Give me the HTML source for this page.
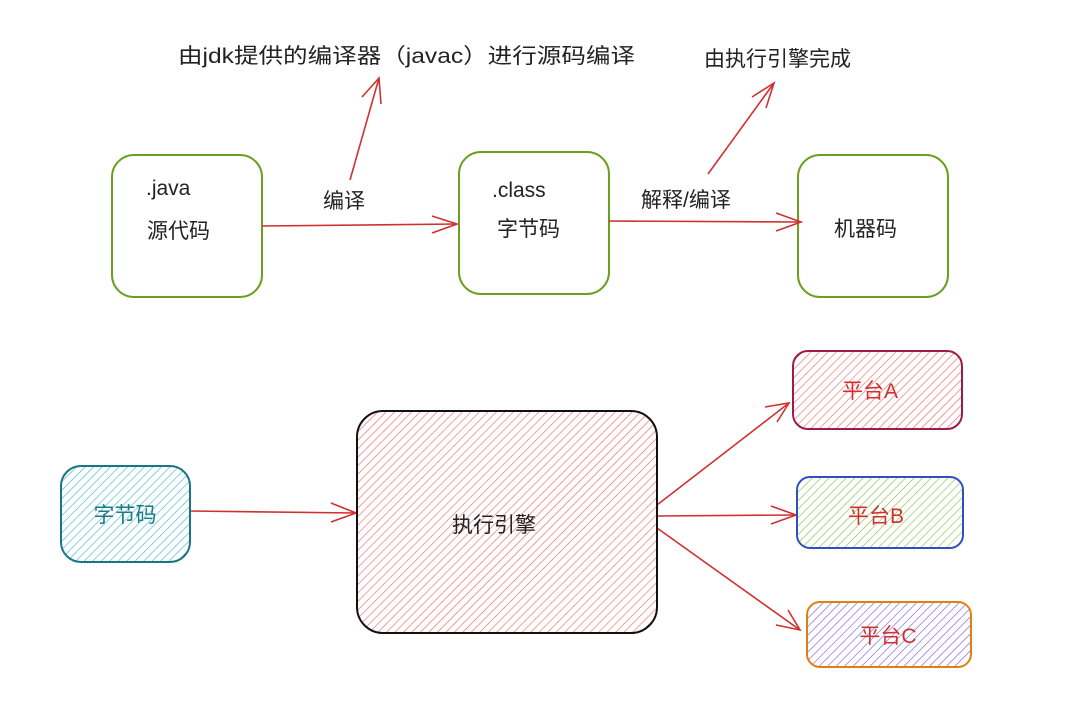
<!DOCTYPE html>
<html><head><meta charset="utf-8"><style>
html,body{margin:0;padding:0;background:#fff;}
svg{display:block;}
text{font-family:"Liberation Sans","Noto Sans CJK SC",sans-serif;}
</style></head><body>
<svg width="1068" height="722" viewBox="0 0 1068 722" xmlns="http://www.w3.org/2000/svg">
<defs>
<pattern id="hr" width="6" height="6" patternUnits="userSpaceOnUse" patternTransform="rotate(45)"><line x1="0" y1="0" x2="0" y2="6" stroke="#f06060" stroke-width="1.2"/></pattern>
<pattern id="ht" width="6" height="6" patternUnits="userSpaceOnUse" patternTransform="rotate(45)"><line x1="0" y1="0" x2="0" y2="6" stroke="#30b4c8" stroke-width="1.2"/></pattern>
<pattern id="hg" width="6" height="6" patternUnits="userSpaceOnUse" patternTransform="rotate(45)"><line x1="0" y1="0" x2="0" y2="6" stroke="#80c040" stroke-width="1.2"/></pattern>
<pattern id="hp" width="6" height="6" patternUnits="userSpaceOnUse" patternTransform="rotate(45)"><line x1="0" y1="0" x2="0" y2="6" stroke="#7050e0" stroke-width="1.2"/></pattern>
</defs>

<!-- top boxes -->
<rect x="112" y="155" width="150" height="142" rx="22" fill="#fff" stroke="#6a9f1f" stroke-width="2"/>
<rect x="459" y="152" width="150" height="142" rx="22" fill="#fff" stroke="#6a9f1f" stroke-width="2"/>
<rect x="798" y="155" width="150" height="142" rx="22" fill="#fff" stroke="#6a9f1f" stroke-width="2"/>
<g fill="#222" font-size="21">
<text x="146" y="195">.java</text>
<text x="147" y="238">源代码</text>
<text x="492" y="197">.class</text>
<text x="497" y="236">字节码</text>
<text x="834" y="236">机器码</text>
<text x="323" y="208">编译</text>
<text x="641" y="207">解释/编译</text>
<text x="178" y="63" textLength="457" lengthAdjust="spacingAndGlyphs">由jdk提供的编译器（javac）进行源码编译</text>
<text x="704" y="66">由执行引擎完成</text>
</g>

<g stroke="#d03030" stroke-width="1.6" fill="none">
<line x1="262" y1="226" x2="457" y2="224"/>
<polyline points="432,216 457,224 432,233"/>
<line x1="609" y1="221" x2="801" y2="222"/>
<polyline points="776,213 801,222 776,231"/>
<line x1="350" y1="180" x2="379" y2="78"/>
<polyline points="362,97 379,78 381,104"/>
<line x1="708" y1="174" x2="774" y2="83"/>
<polyline points="752,97 774,83 766,108"/>

<line x1="190" y1="511" x2="356" y2="513"/>
<polyline points="331,503 356,513 331,522"/>
<line x1="657" y1="505" x2="789" y2="403"/>
<polyline points="765,407 789,403 777,422"/>
<line x1="657" y1="516" x2="796" y2="515"/>
<polyline points="771,506 796,515 771,524"/>
<line x1="657" y1="528" x2="800" y2="630"/>
<polyline points="788,610 800,630 776,625"/>
</g>

<!-- bottom -->
<rect x="61" y="466" width="129" height="96" rx="20" fill="url(#ht)" stroke="#177585" stroke-width="2"/>
<text x="125" y="522" font-size="21" fill="#1a7a8a" text-anchor="middle">字节码</text>

<rect x="357" y="411" width="300" height="222" rx="26" fill="url(#hr)" stroke="#111" stroke-width="2"/>
<text x="494" y="532" font-size="21" fill="#222" text-anchor="middle">执行引擎</text>

<rect x="793" y="351" width="169" height="78" rx="15" fill="url(#hr)" stroke="#a01a4a" stroke-width="2"/>
<text x="870" y="398" font-size="21" fill="#d03030" text-anchor="middle">平台A</text>
<rect x="797" y="477" width="166" height="71" rx="13" fill="url(#hg)" stroke="#3050c0" stroke-width="2"/>
<text x="876" y="523" font-size="21" fill="#d03030" text-anchor="middle">平台B</text>
<rect x="807" y="602" width="164" height="65" rx="13" fill="url(#hp)" stroke="#e08010" stroke-width="2"/>
<text x="888" y="643" font-size="21" fill="#d03030" text-anchor="middle">平台C</text>
</svg>
</body></html>
